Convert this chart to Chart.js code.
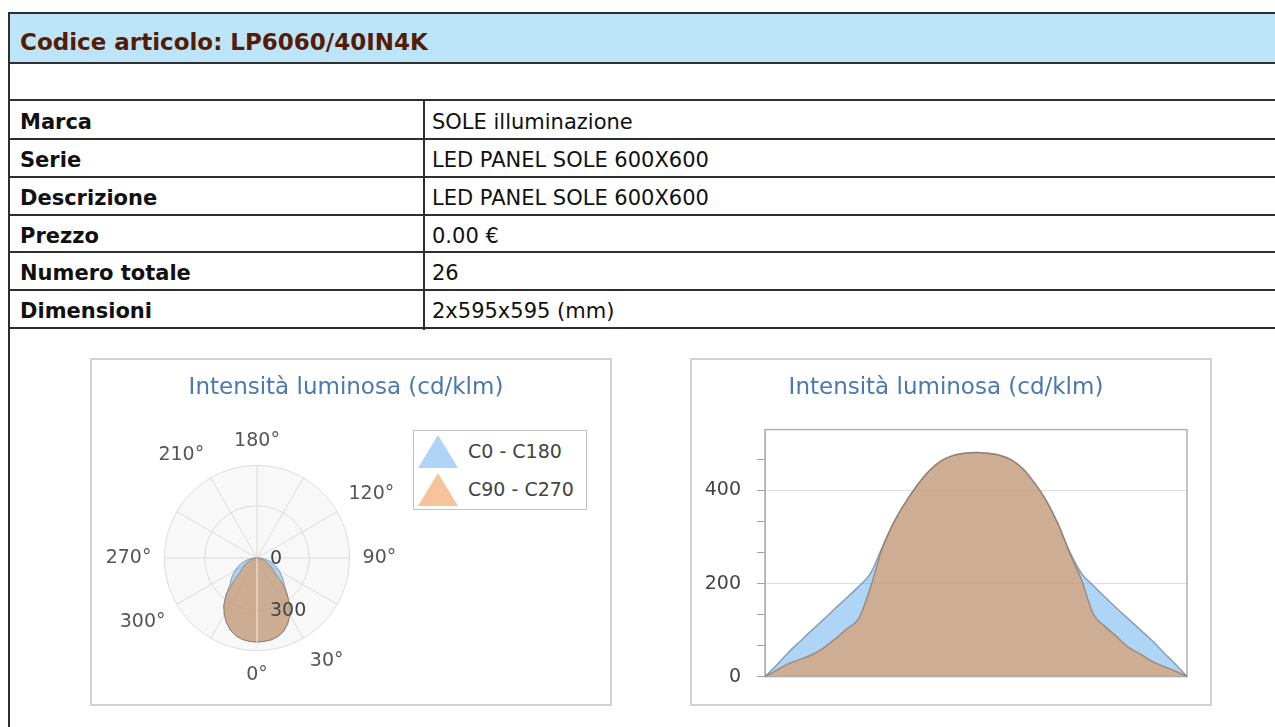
<!DOCTYPE html>
<html lang="it">
<head>
<meta charset="utf-8">
<title>LP6060/40IN4K</title>
<script src="https://cdn.jsdelivr.net/npm/chart.js@4.4.1/dist/chart.umd.min.js"></script>
<style>
  html, body { margin: 0; padding: 0; background: #fff; }
  body {
    width: 1275px; height: 727px; overflow: hidden; position: relative;
    font-family: "DejaVu Sans", Verdana, sans-serif; color: #111;
  }
  .frame {
    position: absolute; left: 8px; top: 12px; width: 1320px; height: 760px;
    border-left: 2px solid #2e2e2e; border-top: 2px solid #2e2e2e;
  }
  .hline { position: absolute; left: 8px; width: 1320px; height: 2px; background: #2e2e2e; }
  .vline { position: absolute; left: 423px; top: 100px; width: 2px; height: 230px; background: #2e2e2e; }
  .head {
    position: absolute; left: 10px; top: 14px; width: 1320px; height: 49px;
    background: #bde5fa;
  }
  .head span {
    position: absolute; left: 10px; top: 15px;
    font-size: 23px; font-weight: bold; color: #561b03;
  }
  .cell {
    position: absolute; height: 36px; line-height: 36px; font-size: 21px; white-space: nowrap;
  }
  .cell.key { left: 20px; font-weight: bold; }
  .cell.val { left: 432px; }
  .box {
    position: absolute; top: 358px; width: 518px; height: 344px;
    border: 2px solid #d3d3d3; background: #fff;
  }
  .box canvas { position: absolute; left: 0; top: 0; }
  .legend {
    position: absolute; left: 413px; top: 430px; width: 172px; height: 78px;
    border: 1px solid #c2c2c2; background: #fff;
  }
  .legend .item {
    position: absolute; left: 0; height: 38px; line-height: 38px;
    font-size: 19px; color: #444; white-space: nowrap;
  }
  .legend .tri {
    position: absolute; left: 4px; top: 3px; width: 40px; height: 33px;
    clip-path: polygon(50% 0, 100% 100%, 0 100%);
  }
  .legend .txt { position: absolute; left: 54px; top: 0; }
</style>
</head>
<body>

<div class="frame"></div>
<div class="head"><span>Codice articolo: LP6060/40IN4K</span></div>
<div class="hline" style="top:62px"></div>
<div class="hline" style="top:99px"></div>
<div class="hline" style="top:138px"></div>
<div class="hline" style="top:176px"></div>
<div class="hline" style="top:214px"></div>
<div class="hline" style="top:251px"></div>
<div class="hline" style="top:289px"></div>
<div class="hline" style="top:327px"></div>
<div class="vline"></div>

<div class="cell key" style="top:104px">Marca</div>
<div class="cell val" style="top:104px">SOLE illuminazione</div>
<div class="cell key" style="top:142px">Serie</div>
<div class="cell val" style="top:142px">LED PANEL SOLE 600X600</div>
<div class="cell key" style="top:180px">Descrizione</div>
<div class="cell val" style="top:180px">LED PANEL SOLE 600X600</div>
<div class="cell key" style="top:218px">Prezzo</div>
<div class="cell val" style="top:218px">0.00 €</div>
<div class="cell key" style="top:255px">Numero totale</div>
<div class="cell val" style="top:255px">26</div>
<div class="cell key" style="top:293px">Dimensioni</div>
<div class="cell val" style="top:293px">2x595x595 (mm)</div>

<div class="box" style="left:90px"><canvas id="polarChart" width="518" height="344"></canvas></div>
<div class="box" style="left:690px"><canvas id="curveChart" width="518" height="344"></canvas></div>
<div class="legend" id="polarLegend"></div>

<script>
// Photometric data: intensity (cd/klm) vs gamma angle, two C-planes
const gammaDeg = [-90, -85, -80, -75, -70, -65, -60, -55, -50, -45, -40, -35, -30, -25, -20, -15, -10, -5,
    0, 5, 10, 15, 20, 25, 30, 35, 40, 45, 50, 55, 60, 65, 70, 75, 80, 85, 90];
const c0c180 = [0, 25, 52, 76, 100, 123, 147, 170, 194, 222, 278, 332, 375, 412, 442, 463, 475, 480,
    482, 480, 476, 466, 447, 416, 378, 328, 268, 222, 196, 171, 147, 124, 101, 78, 52, 27, 0];
const c90c270 = [0, 14, 28, 37, 47, 62, 81, 103, 125, 192, 275, 332, 375, 412, 442, 463, 475, 480,
    482, 480, 476, 466, 447, 416, 378, 328, 265, 208, 135, 108, 86, 63, 49, 33, 22, 12, 0];

const seriesNames = ["C0 - C180", "C90 - C270"];
const seriesFill = ["rgba(93, 171, 235, 0.5)", "rgba(237, 135, 53, 0.5)"];
const seriesLine = ["rgba(110, 135, 160, 0.75)", "rgba(150, 120, 100, 0.75)"];
const chartTitle = "Intensità luminosa (cd/klm)";

// y axis of the cartesian chart
const yMax = 531;
const yTickValues = [0, 200 / 3, 400 / 3, 200, 800 / 3, 1000 / 3, 400, 1400 / 3];
const yTickLabels = ["0", "", "", "200", "", "", "400", ""];

// polar chart: spokes every 5 degrees, labels shown on some of the 30 degree spokes
const polarStep = 5;
const polarAngleLabels = ["0°", "30°", "90°", "120°", "180°", "210°", "270°", "300°"];
const polarTicks = [0, 300, yMax];
const polarTickLabels = ["0", "300", ""];

const fontFamily = '"DejaVu Sans", Verdana, sans-serif';

// Chart.js runs clockwise from the bottom, the diagram counter-clockwise
const polarThetas = [];
for (let i = 0; i < 360 / polarStep; i++) {
    polarThetas.push((360 - i * polarStep) % 360);
}
const polarLabels = polarThetas.map((t) =>
    polarAngleLabels.includes(t + "°") ? t + "°" : ""
);
function polarSeries(values) {
    return polarThetas.map((t) => {
        const g = t <= 180 ? t : t - 360;
        const i = gammaDeg.indexOf(g);
        return i >= 0 ? values[i] : 0;
    });
}

const titleOpts = {
    display: true,
    text: chartTitle,
    color: "#4a78b0",
    font: { family: fontFamily, size: 23, weight: "normal" },
    padding: { top: 14, bottom: 28 },
};

// keeps free room on the right of the polar diagram for the legend
const legendSpace = {
    id: "legendSpace",
    beforeInit(chart) {
        Chart.layouts.addBox(chart, {
            position: "right",
            weight: 0,
            fullSize: false,
            options: {},
            width: 0, height: 0, left: 0, top: 0, right: 0, bottom: 0,
            isHorizontal() { return false; },
            update(maxWidth, maxHeight) {
                this.width = 190;
                this.height = maxHeight;
            },
            draw() {},
        });
    },
};

// 0 / 300 labels and the white axis line along the 0° spoke
const polarAxisLabels = {
    id: "polarAxisLabels",
    afterDatasetsDraw(chart) {
        const r = chart.scales.r;
        const ctx = chart.ctx;
        const start = r.getPointPositionForValue(0, 0);
        const end = r.getPointPositionForValue(0, r.max);
        ctx.save();
        ctx.strokeStyle = "rgba(255, 255, 255, 0.85)";
        ctx.lineWidth = 1;
        ctx.beginPath();
        ctx.moveTo(start.x, start.y);
        ctx.lineTo(end.x, end.y);
        ctx.stroke();
        ctx.font = "19px " + fontFamily;
        ctx.fillStyle = "#444";
        ctx.textAlign = "left";
        ctx.textBaseline = "middle";
        polarTicks.forEach((v, i) => {
            if (!polarTickLabels[i]) return;
            const p = r.getPointPositionForValue(0, v);
            ctx.fillText(polarTickLabels[i], p.x + 13, p.y + 1);
        });
        ctx.restore();
    },
};

const plotFrame = {
    id: "plotFrame",
    beforeDatasetsDraw(chart) {
        const { ctx, chartArea: a } = chart;
        ctx.save();
        ctx.strokeStyle = "#b0b0b0";
        ctx.lineWidth = 1.5;
        ctx.strokeRect(a.left, a.top, a.right - a.left, a.bottom - a.top);
        ctx.restore();
    },
};

// 1. Polar diagram
new Chart(document.getElementById("polarChart").getContext("2d"), {
    type: "radar",
    data: {
        labels: polarLabels,
        datasets: [c0c180, c90c270].map((values, k) => ({
            label: seriesNames[k],
            data: polarSeries(values),
            backgroundColor: seriesFill[k],
            borderColor: seriesLine[k],
            borderWidth: 1,
            pointRadius: 0,
            fill: "origin",
            order: 1 - k,
        })),
    },
    options: {
        responsive: false,
        animation: false,
        layout: { padding: { left: 4, right: 14, top: 0, bottom: 17 } },
        plugins: {
            legend: { display: false },
            tooltip: { enabled: false },
            title: titleOpts,
        },
        scales: {
            r: {
                min: 0,
                max: yMax,
                startAngle: 180,
                backgroundColor: "#f8f8f8",
                afterBuildTicks: (scale) => {
                    scale.ticks = polarTicks.map((v) => ({ value: v }));
                },
                ticks: { display: false },
                grid: { circular: true, color: "#dcdcdc" },
                angleLines: {
                    color: (c) => (polarThetas[c.index] % 30 === 0 ? "#dcdcdc" : "transparent"),
                },
                pointLabels: {
                    padding: 13,
                    color: "#555",
                    font: { family: fontFamily, size: 19 },
                },
            },
        },
    },
    plugins: [legendSpace, polarAxisLabels],
});

// 2. Cartesian diagram
new Chart(document.getElementById("curveChart").getContext("2d"), {
    type: "line",
    data: {
        labels: gammaDeg,
        datasets: [c0c180, c90c270].map((values, k) => ({
            label: seriesNames[k],
            data: values,
            backgroundColor: seriesFill[k],
            borderColor: seriesLine[k],
            borderWidth: 1.5,
            pointRadius: 0,
            fill: "origin",
            cubicInterpolationMode: "monotone",
            order: 1 - k,
        })),
    },
    options: {
        responsive: false,
        animation: false,
        layout: { padding: { left: 13, right: 23, top: 0, bottom: 26 } },
        plugins: {
            legend: { display: false },
            tooltip: { enabled: false },
            title: titleOpts,
        },
        scales: {
            x: { display: false },
            y: {
                min: 0,
                max: yMax,
                afterBuildTicks: (scale) => {
                    scale.ticks = yTickValues.map((v) => ({ value: v }));
                },
                afterFit: (scale) => {
                    scale.width = 60;
                },
                border: { display: true, color: "#a8a8a8" },
                grid: {
                    color: (c) => (yTickLabels[c.index] && c.index > 0 ? "#dedede" : "transparent"),
                    tickColor: "#a0a0a0",
                    tickLength: 8,
                },
                ticks: {
                    autoSkip: false,
                    padding: 16,
                    color: "#444",
                    font: { family: fontFamily, size: 19 },
                    callback: (v, i) => yTickLabels[i],
                },
            },
        },
    },
    plugins: [plotFrame],
});

// Legend of the polar diagram
const legendEl = document.getElementById("polarLegend");
seriesNames.forEach((name, k) => {
    const item = document.createElement("div");
    item.className = "item";
    item.style.top = 1 + k * 38 + "px";
    item.innerHTML = '<span class="tri" style="background:' + seriesFill[k] + '"></span>' +
        '<span class="txt">' + name + "</span>";
    legendEl.appendChild(item);
});
</script>
</body>
</html>
